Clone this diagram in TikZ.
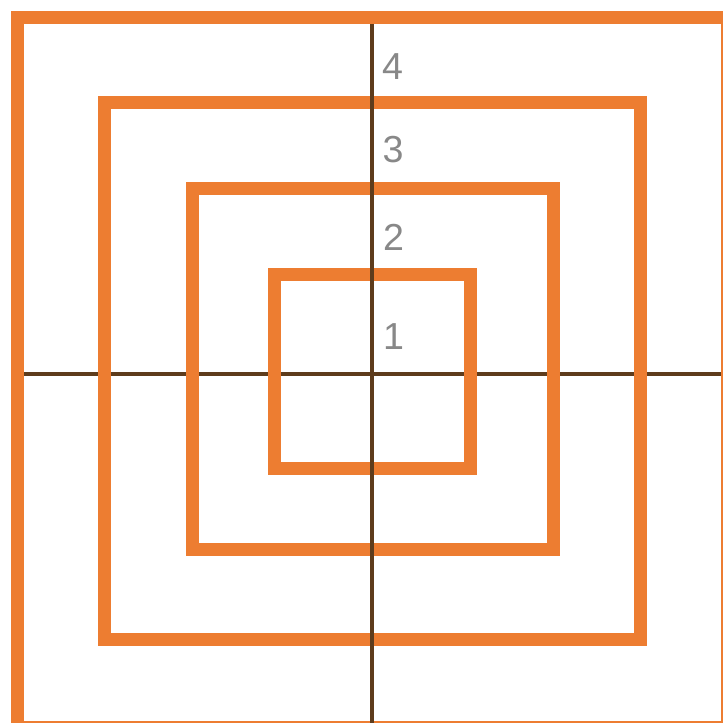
\documentclass[tikz,border=0pt]{standalone}
\usepackage{fontspec}
\setmainfont{Liberation Sans}
\definecolor{ringorange}{HTML}{ED7D31}
\definecolor{axisbrown}{HTML}{5E3C1C}
\definecolor{labelgray}{HTML}{888888}
\begin{document}
\begin{tikzpicture}[
        ring/.style={draw=ringorange, line width=0.13cm},
        axis/.style={draw=axisbrown, line width=0.032cm},
        level/.style={text=labelgray, font=\fontsize{10.7}{12}\selectfont, inner sep=0pt}
    ]
        \useasboundingbox (-3.72, -3.51) rectangle (3.51, 3.72);

        % Horizontal axis
        \draw[axis] (-3.49, -0.02) -- (3.60, -0.02);

        % Squares
        \draw[ring] (-0.975, -0.965) rectangle (0.98, 0.975);
        \draw[ring] (-1.795, -1.78) rectangle (1.815, 1.83);
        \draw[ring] (-2.68, -2.67) rectangle (2.685, 2.695);
        \draw[ring] (-3.545, -3.55) rectangle (3.55, 3.545);

        % Vertical axis
        \draw[axis] (0, 3.48) -- (0, -3.60);

        % Level labels
        \node[level] (one) at (0.215, 0.353) {1};
        \node[level] (two) at (0.215, 1.345) {2};
        \node[level] (three) at (0.21, 2.225) {3};
        \node[level] (four) at (0.205, 3.055) {4};
    \end{tikzpicture}
\end{document}
